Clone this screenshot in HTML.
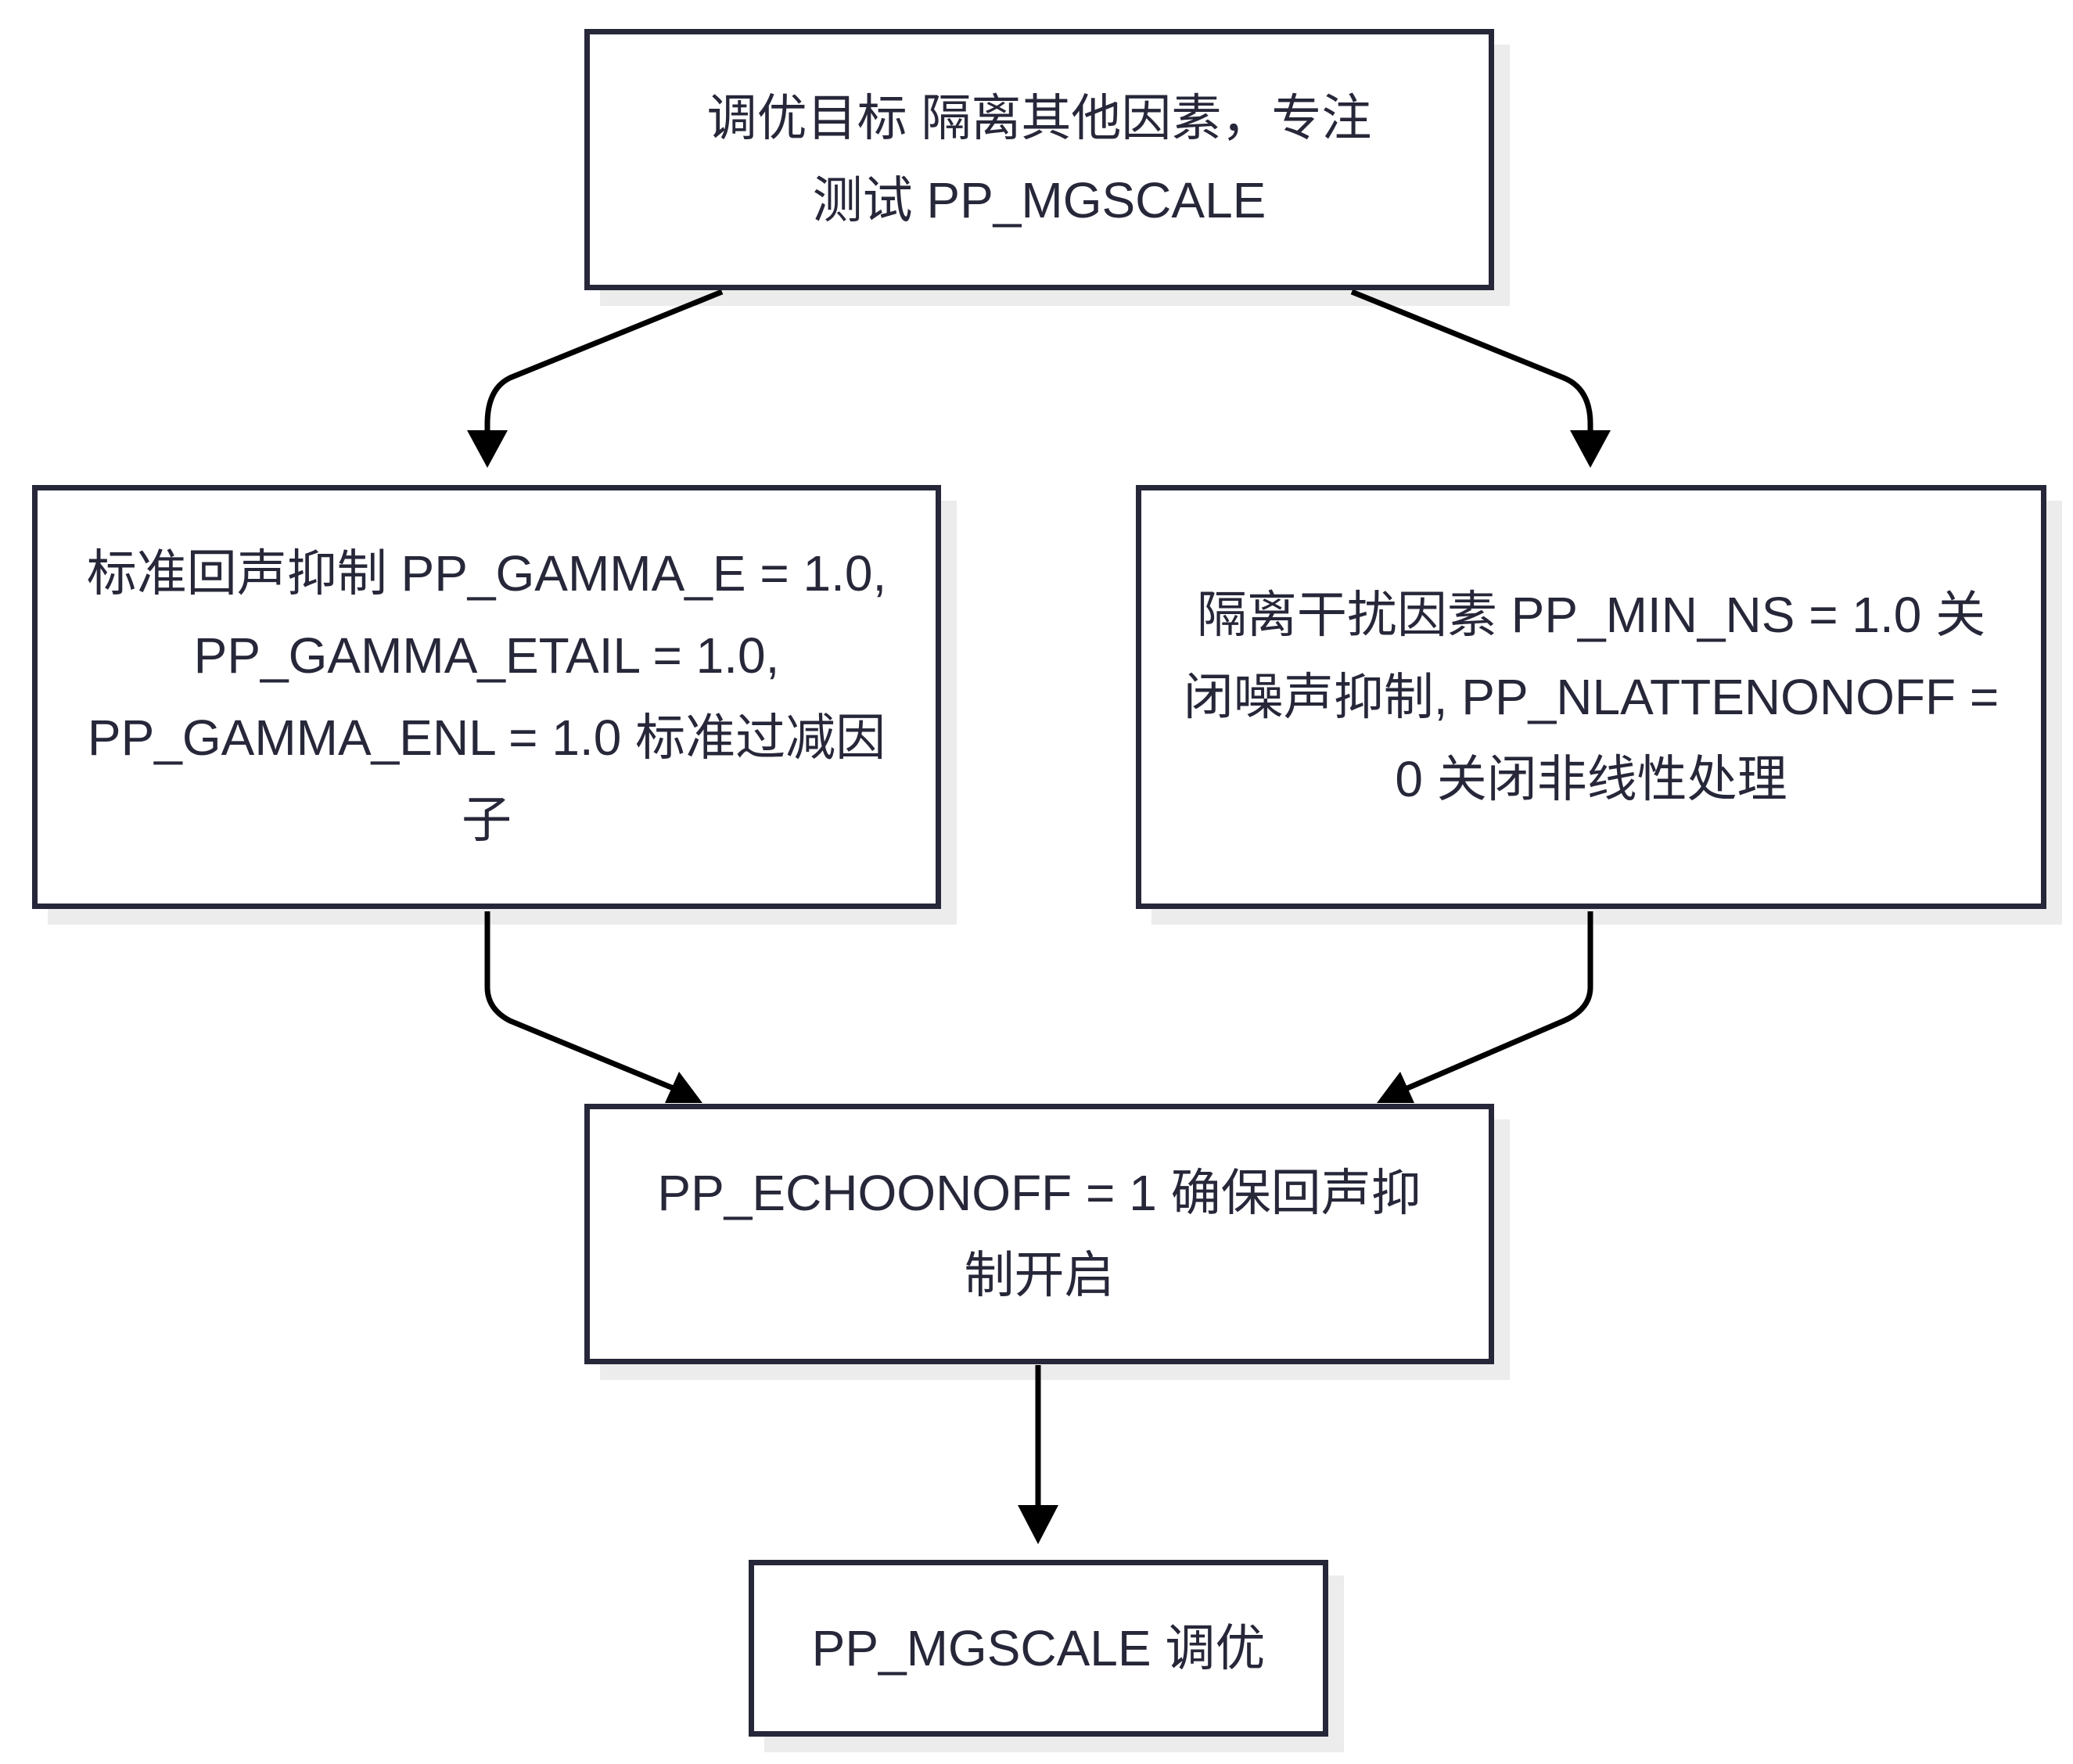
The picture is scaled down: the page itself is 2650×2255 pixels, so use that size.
<!DOCTYPE html>
<html><head><meta charset="utf-8"><style>
body{margin:0;width:2650px;height:2255px;background:#fff;position:relative;overflow:hidden;font-family:"Liberation Sans","Noto Sans CJK SC",sans-serif;}
.sh{position:absolute;background:#ececec;}
.b{position:absolute;box-sizing:border-box;border:7px solid #27273a;background:#fff;display:flex;align-items:center;justify-content:center;text-align:center;color:#27273a;font-size:64px;line-height:105px;padding:0 40px;}
svg{position:absolute;left:0;top:0;}
</style></head><body>
<div class="sh" style="left:767px;top:57px;width:1163px;height:334px"></div>
<div class="sh" style="left:61px;top:640px;width:1162px;height:542px"></div>
<div class="sh" style="left:1472px;top:640px;width:1164px;height:542px"></div>
<div class="sh" style="left:767px;top:1431px;width:1163px;height:333px"></div>
<div class="sh" style="left:977px;top:2014px;width:741px;height:226px"></div>

<svg width="2650" height="2255">
<defs><marker id="a" markerWidth="10" markerHeight="10" refX="9" refY="5" orient="auto" markerUnits="userSpaceOnUse" viewBox="0 0 10 10" style="overflow:visible"></marker></defs>
<g fill="none" stroke="#000" stroke-width="7">
<path d="M923 373 L652 483 Q623 497 623 542 L623 560"/>
<path d="M1728 373 L1999 483 Q2033 497 2033 542 L2033 560"/>
<path d="M623 1165 L623 1262 Q623 1290 652 1305 L870 1395"/>
<path d="M2033 1165 L2033 1262 Q2033 1290 1999 1305 L1790 1395"/>
<path d="M1327 1745 L1327 1940"/>
</g>
<g fill="#000">
<polygon points="597,550 649,550 623,598"/>
<polygon points="2007,550 2059,550 2033,598"/>
<polygon points="898,1410 850,1410 868,1370"/>
<polygon points="1760,1410 1808,1410 1790,1370"/>
<polygon points="1301,1924 1353,1924 1327,1974"/>
</g>
</svg>

<div class="b" style="left:747px;top:37px;width:1163px;height:334px">调优目标 隔离其他因素，专注<br>测试 PP_MGSCALE</div>
<div class="b" style="left:41px;top:620px;width:1162px;height:542px">标准回声抑制 PP_GAMMA_E = 1.0, PP_GAMMA_ETAIL = 1.0, PP_GAMMA_ENL = 1.0 标准过减因子</div>
<div class="b" style="left:1452px;top:620px;width:1164px;height:542px">隔离干扰因素 PP_MIN_NS = 1.0 关闭噪声抑制, PP_NLATTENONOFF = 0 关闭非线性处理</div>
<div class="b" style="left:747px;top:1411px;width:1163px;height:333px">PP_ECHOONOFF = 1 确保回声抑<br>制开启</div>
<div class="b" style="left:957px;top:1994px;width:741px;height:226px">PP_MGSCALE 调优</div>
</body></html>
